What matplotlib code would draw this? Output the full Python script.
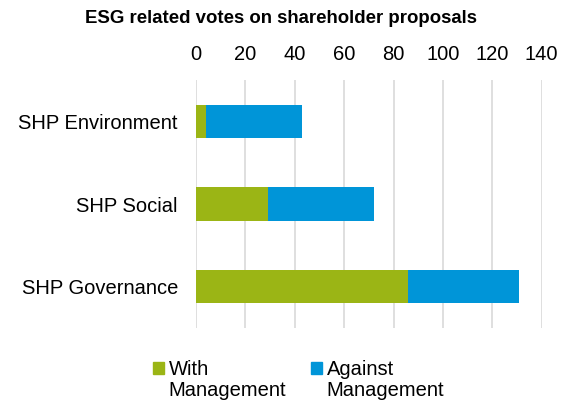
import matplotlib.pyplot as plt
import matplotlib.patches as mpatches
from matplotlib.legend_handler import HandlerPatch
import numpy as np

categories = ["SHP Environment", "SHP Social", "SHP Governance"]
with_mgmt = [4, 29, 86]
against_mgmt = [39, 43, 45]
x_ticks = [0, 20, 40, 60, 80, 100, 120, 140]
series_names = ["With\nManagement", "Against\nManagement"]
colors = ["#9BB515", "#0095D8"]

plt.rcParams["font.family"] = ["Liberation Sans", "DejaVu Sans"]


def top_square(legend, orig_handle, xdescent, ydescent, width, height, fontsize):
    # put the legend marker next to the first line of a two-line label
    return mpatches.Rectangle((-xdescent, -ydescent + 0.6 * fontsize),
                              width, height)


fig = plt.figure(figsize=(5.62, 4.04), dpi=100)
ax = fig.add_axes([196 / 562, 1 - 328 / 404, (541.7 - 196) / 562, 248 / 404])

y = np.arange(len(categories))
ax.barh(y, with_mgmt, height=0.4, color=colors[0], zorder=3)
ax.barh(y, against_mgmt, left=with_mgmt, height=0.4, color=colors[1], zorder=3)

ax.set_xlim(0, 140)
ax.set_ylim(2.5, -0.5)
ax.set_xticks(x_ticks)
ax.set_yticks(y)
ax.set_yticklabels(categories)
ax.xaxis.tick_top()
ax.tick_params(axis="x", length=0, pad=11.5, labelsize=14.5, colors="black")
ax.tick_params(axis="y", length=0, pad=13, labelsize=14.5, colors="black")
ax.grid(axis="x", color="#D9D9D9", linewidth=1.2, zorder=0)
for s in ax.spines.values():
    s.set_visible(False)

fig.suptitle("ESG related votes on shareholder proposals",
             x=0.5, y=0.975, fontsize=13.4, fontweight="bold")

handles = [mpatches.Patch(color=c) for c in colors]
leg = fig.legend(handles, series_names, loc="lower center",
                 bbox_to_anchor=(0.531, -0.034), ncol=2,
                 frameon=False, fontsize=14.5, handlelength=0.55,
                 handleheight=0.55, handletextpad=0.25, columnspacing=1.2,
                 labelspacing=0,
                 handler_map={mpatches.Patch: HandlerPatch(patch_func=top_square)})
for t in leg.get_texts():
    t.set_linespacing(1.1)

fig.savefig("out.png", dpi=100)
